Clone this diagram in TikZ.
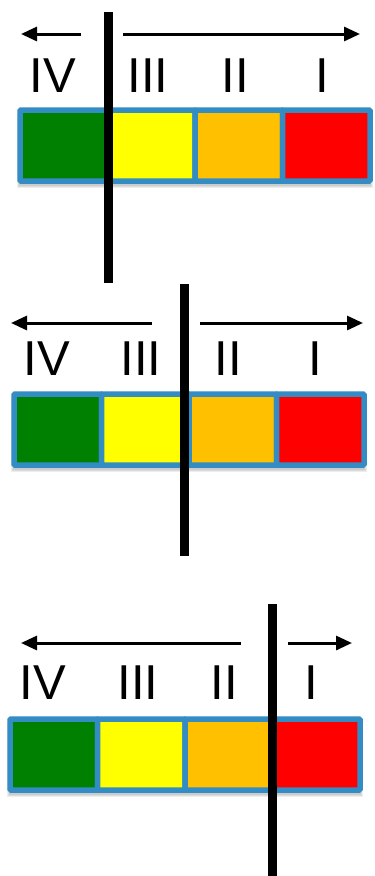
\documentclass[tikz,border=0pt]{standalone}
\usepackage{fontspec}
\setmainfont{Liberation Sans}
\usetikzlibrary{arrows.meta}
\definecolor{cgreen}{RGB}{0,128,0}
\definecolor{cyellow}{RGB}{255,255,0}
\definecolor{corange}{RGB}{255,192,0}
\definecolor{cred}{RGB}{255,0,0}
\definecolor{cblue}{RGB}{52,140,196}
\newcommand\mybar[2]{% #1 = left x of path, #2 = top y of path
  \foreach \k in {0,1,2}{
    \fill[black,opacity=0.07] ({#1-3+\k},{#2+3+\k}) rectangle ({#1+353-\k},{#2+78-\k});
  }
  \foreach \c [count=\i from 0] in {cgreen,cyellow,corange,cred}{
    \draw[cell,fill=\c] ({#1+87.5*\i},#2) rectangle ({#1+87.5*(\i+1)},{#2+71});
  }
}
\begin{document}
\begin{tikzpicture}[x=1pt,y=-1pt,
  cell/.style={draw=cblue,line width=5.5pt,rounded corners=1pt},
  sepline/.style={line width=9pt,line cap=butt},
  arr/.style={line width=3pt,-{Triangle[length=16pt,width=14pt]}},
  lab/.style={font=\fontsize{49}{49}\selectfont,anchor=base,inner sep=0pt}]
\useasboundingbox (0,0) rectangle (375,876);
\fill[white] (0,0) rectangle (375,876);
% ---------- panel 1 ----------
\mybar{20}{110}
\coordinate (a1s) at (81,34); \coordinate (a1e) at (21,34);
\coordinate (b1s) at (123,34); \coordinate (b1e) at (360,34);
\draw[arr] (a1s) -- (a1e);
\draw[arr] (b1s) -- (b1e);
\node[lab] (p1iv) at (53,92) {IV};
\node[lab] (p1iii) at (148,92) {III};
\node[lab] (p1ii) at (235,92) {II};
\node[lab] (p1i) at (322,92) {I};
\coordinate (l1t) at (108,12); \coordinate (l1b) at (108,283);
\draw[sepline] (l1t) -- (l1b);
% ---------- panel 2 ----------
\mybar{14}{394}
\coordinate (a2s) at (152,323); \coordinate (a2e) at (11,323);
\coordinate (b2s) at (200,323); \coordinate (b2e) at (363,323);
\draw[arr] (a2s) -- (a2e);
\draw[arr] (b2s) -- (b2e);
\node[lab] (p2iv) at (47,375) {IV};
\node[lab] (p2iii) at (141,375) {III};
\node[lab] (p2ii) at (228,375) {II};
\node[lab] (p2i) at (315,375) {I};
\coordinate (l2t) at (184,284); \coordinate (l2b) at (184,556);
\draw[sepline] (l2t) -- (l2b);
% ---------- panel 3 ----------
\mybar{10}{719}
\coordinate (a3s) at (241,643); \coordinate (a3e) at (21,643);
\coordinate (b3s) at (288,643); \coordinate (b3e) at (352,643);
\draw[arr] (a3s) -- (a3e);
\draw[arr] (b3s) -- (b3e);
\node[lab] (p3iv) at (43,699) {IV};
\node[lab] (p3iii) at (138,699) {III};
\node[lab] (p3ii) at (224,699) {II};
\node[lab] (p3i) at (311,699) {I};
\coordinate (l3t) at (272,604); \coordinate (l3b) at (272,876);
\draw[sepline] (l3t) -- (l3b);
\end{tikzpicture}
\end{document}
